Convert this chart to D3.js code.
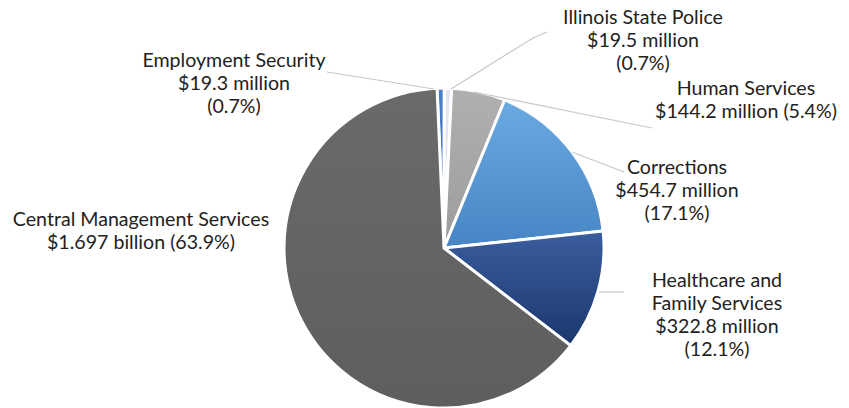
<!DOCTYPE html>
<html><head><meta charset="utf-8">
<script src="https://cdn.jsdelivr.net/npm/d3@7/dist/d3.min.js"></script>
<style>body{margin:0;background:#fff}svg{display:block}text{font-family:Lato,"Open Sans",sans-serif;fill:#222}</style>
</head><body>
<script>
const categories = ["Employment Security","Illinois State Police","Human Services","Corrections","Healthcare and Family Services","Central Management Services"];
const values = [19.3, 19.5, 144.2, 454.7, 322.8, 1697];
const amountLabels = ["$19.3 million","$19.5 million","$144.2 million","$454.7 million","$322.8 million","$1.697 billion"];
const percentLabels = ["(0.7%)","(0.7%)","(5.4%)","(17.1%)","(12.1%)","(63.9%)"];
const colors = [["#4a7fcc","#3563b0"],["#e3eaf4","#d3dcea"],["#b0b0b0","#9c9c9c"],["#6aaae2","#4784c4"],["#3a5d9e","#1c376e"],["#6a6a6a","#5e5e5e"]];

// layout: label lines and positions
const labelLayout = [
  {x:234, y:60, lines:[categories[0], amountLabels[0], percentLabels[0]], leader:[[327,72],[434,89]]},
  {x:643, y:17, lines:[categories[1], amountLabels[1], percentLabels[1]], leader:[[451,89],[533,38],[547,32]]},
  {x:746, y:88, lines:[categories[2], amountLabels[2]+" "+percentLabels[2]], leader:[[474,92],[652,128]]},
  {x:677, y:167, lines:[categories[3], amountLabels[3], percentLabels[3]], leader:[[572,152],[624,172]]},
  {x:717, y:280, lines:["Healthcare and","Family Services", amountLabels[4], percentLabels[4]], leader:[[599,292],[624,292]]},
  {x:141, y:219, lines:[categories[5], amountLabels[5]+" "+percentLabels[5]], leader:null}
];

const W=849,H=408, cx=444, cy=248, R=160;
const svg=d3.select("body").append("svg").attr("width",W).attr("height",H);
const defs=svg.append("defs");
colors.forEach((c,i)=>{
  const g=defs.append("linearGradient").attr("id","g"+i).attr("x1",0).attr("y1",0).attr("x2",0).attr("y2",1);
  g.append("stop").attr("offset","0%").attr("stop-color",c[0]);
  g.append("stop").attr("offset","100%").attr("stop-color",c[1]);
});

const start=-2.5*Math.PI/180;
const pie=d3.pie().sort(null).startAngle(start).endAngle(start+2*Math.PI);
const arc=d3.arc().innerRadius(0).outerRadius(R);
const g=svg.append("g").attr("transform",`translate(${cx},${cy})`);
g.selectAll("path").data(pie(values)).join("path")
  .attr("d",arc).attr("fill",(d,i)=>`url(#g${i})`)
  .attr("stroke","#fff").attr("stroke-width",3).attr("stroke-linejoin","round");

const line=d3.line();
labelLayout.forEach(l=>{
  if(l.leader) svg.append("path").attr("d",line(l.leader)).attr("fill","none").attr("stroke","#c8c8c8").attr("stroke-width",1.2);
});
labelLayout.forEach(l=>{
  const t=svg.append("text").attr("text-anchor","middle").attr("font-size",19.6);
  l.lines.forEach((s,j)=>t.append("tspan").attr("x",l.x).attr("y",l.y+j*23).attr("dy","0.35em").text(s));
});
</script>
</body></html>
